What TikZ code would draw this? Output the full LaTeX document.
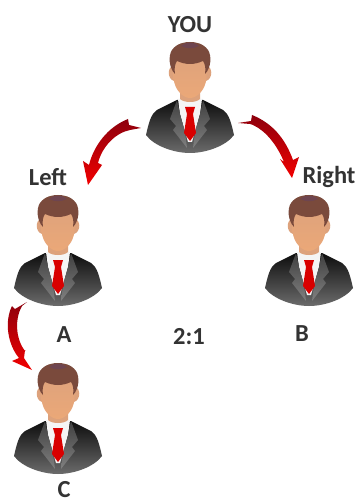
\documentclass[tikz,border=0pt]{standalone}
\usepackage{fontspec}
\setmainfont{Carlito}
\definecolor{hairc}{HTML}{7A4A3C}
\definecolor{hairt}{HTML}{6E4550}
\definecolor{skin}{HTML}{EBA878}
\definecolor{skind}{HTML}{DDA27C}
\definecolor{arrowr}{HTML}{B00010}
\tikzset{
  label text/.style={font=\bfseries\fontsize{24.5}{24.5}\selectfont, text=black!80, inner sep=0pt},
  bent arrow/.style={top color=arrowr!80!black, bottom color=red!95!black, draw=none},
  pics/person/.style={code={
    \coordinate (-top) at (0,0);
    % body
    \shade[top color=black!95, bottom color=black!58]
      (-13,58) -- (-33,68) .. controls (-39,72) and (-41,80) .. (-44,93)
      .. controls (-36,104) and (-16,111) .. (0,111)
      .. controls (16,111) and (36,104) .. (44,93)
      .. controls (41,80) and (39,72) .. (33,68) -- (13,58) -- cycle;
    % shirt
    \fill[black!4] (-12,57) -- (12,57) -- (10,72) -- (2,100) -- (-2,100) -- (-10,72) -- cycle;
    % lapels
    \shade[top color=black!75, bottom color=black!50]
      (-13,58) -- (-20,77) -- (-14,84) -- (-17,88) -- (-3,106) -- (-5,90) -- (-10,72) -- cycle;
    \shade[top color=black!75, bottom color=black!50]
      (13,58) -- (20,77) -- (14,84) -- (17,88) -- (3,106) -- (5,90) -- (10,72) -- cycle;
    % neck
    \fill[skind] (-10,42) -- (10,42) -- (10,57) .. controls (6,61) and (-6,61) .. (-10,57) -- cycle;
    % tie
    \fill[red!85!black] (-5,65) -- (5,65) -- (3,72) -- (6,91) -- (0,99) -- (-6,91) -- (-3,72) -- cycle;
    % ears
    \fill[skind] (-16,24) .. controls (-23,24) and (-23,37) .. (-16,39) -- cycle;
    \fill[skind] (16,24) .. controls (23,24) and (23,37) .. (16,39) -- cycle;
    % face
    \shade[top color=skind, bottom color=skin]
      (-16.5,10) -- (16.5,10) -- (16.5,36) .. controls (15.5,48) and (7,56) .. (0,56)
      .. controls (-7,56) and (-15.5,48) .. (-16.5,36) -- cycle;
    % hair
    \fill[hairc] (-15,32) .. controls (-21,26) and (-22,14) .. (-18,8)
      .. controls (-13,1) and (-5,0) .. (0,0)
      .. controls (5,0) and (13,1) .. (18,8)
      .. controls (22,14) and (21,26) .. (15,32)
      .. controls (16,26) and (15,22) .. (13,19)
      .. controls (4,23) and (-4,23) .. (-13,19)
      .. controls (-15,22) and (-16,26) .. (-15,32) -- cycle;
    \fill[hairt] (-9,4) .. controls (-4,-0.5) and (4,-0.5) .. (9,4)
      .. controls (3,7) and (-3,7) .. (-9,4) -- cycle;
  }}
}
\begin{document}
\begin{tikzpicture}[x=1pt,y=-1pt]
\useasboundingbox (0,0) rectangle (358,502);
\fill[white] (0,0) rectangle (358,502);

\pic (you) at (190,42) {person};
\pic (pa) at (58,195) {person};
\pic (pb) at (309,195) {person};
\pic (pc) at (58,363) {person};

\node[label text] (tyou) at (190,25) {YOU};
\node[label text] (tleft) at (48,177) {Left};
\node[label text] (tright) at (329,177) {Right};
\node[label text] (ta) at (64,335) {A};
\node[label text] (tratio) at (189,337) {2:1};
\node[label text] (tb) at (302,334) {B};
\node[label text] (tc) at (64,490) {C};

% arrow ends
\coordinate (ltail) at (141,128);
\coordinate (ltip) at (88,185);
\coordinate (rtail) at (238,123);
\coordinate (rtip) at (292,178);
\coordinate (ctail) at (27,302);
\coordinate (ctip) at (32,370);

\shade[bent arrow] (ltail) -- (130,130)
  .. controls (115,133) and (102,147) .. (98,163)
  -- (102,165) -- (ltip) -- (83,161) -- (89,165)
  .. controls (94,145) and (108,127) .. (128,119)
  -- (129,125) -- cycle;
\shade[bent arrow] (rtail) -- (250,124) -- (253,125)
  .. controls (266,131) and (277,145) .. (284,162)
  -- (280,159) -- (rtip) -- (299,157) -- (293,160)
  .. controls (285,138) and (272,123) .. (252,115)
  -- (251,121) -- cycle;
\shade[bent arrow] (ctail) -- (22,306)
  .. controls (15,318) and (15,338) .. (25,351)
  -- (25,350) -- (24,358) -- (ctip) -- (12,361) -- (19,358)
  .. controls (8,345) and (4,322) .. (12,306)
  -- (15,309) -- cycle;
\end{tikzpicture}
\end{document}
